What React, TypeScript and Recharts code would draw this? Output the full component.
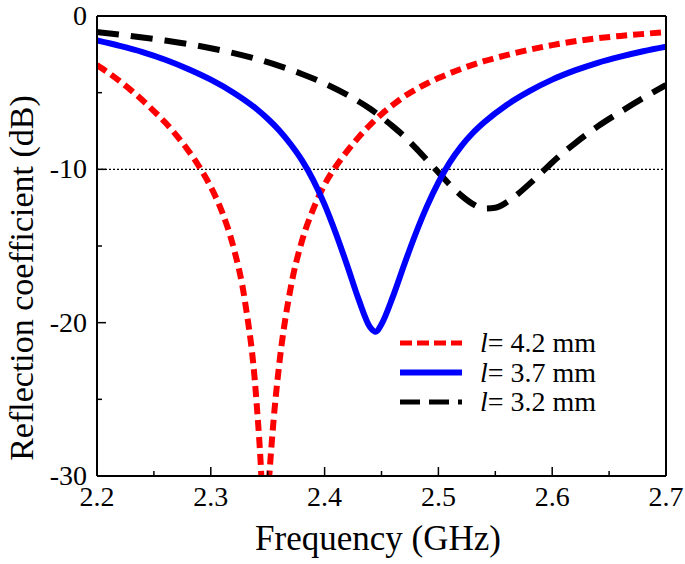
import { LineChart, Line, XAxis, YAxis, ReferenceLine, Legend, Label } from 'recharts';

// l = 4.2 mm
const redFreq = [2.2, 2.21, 2.22, 2.23, 2.24, 2.25, 2.26, 2.27, 2.28, 2.29, 2.3, 2.31, 2.32, 2.33, 2.34, 2.345, 2.347, 2.35, 2.355, 2.36, 2.37, 2.38, 2.39, 2.4, 2.41, 2.42, 2.43, 2.44, 2.45, 2.46, 2.47, 2.48, 2.49, 2.5, 2.52, 2.54, 2.56, 2.58, 2.6, 2.62, 2.64, 2.66, 2.68, 2.7];
const redDb = [-3.2, -3.7, -4.25, -4.85, -5.5, -6.2, -6.95, -7.8, -8.75, -9.85, -11.15, -12.8, -15.1, -18.6, -25, -31, -35, -31.5, -26.5, -22.8, -17.8, -14.7, -12.6, -11.0, -9.8, -8.8, -7.9, -7.1, -6.4, -5.8, -5.25, -4.8, -4.4, -4.05, -3.45, -2.95, -2.55, -2.2, -1.9, -1.65, -1.45, -1.3, -1.17, -1.05];

// l = 3.7 mm
const blueFreq = [2.2, 2.22, 2.24, 2.26, 2.28, 2.3, 2.32, 2.34, 2.35, 2.36, 2.37, 2.38, 2.39, 2.4, 2.41, 2.42, 2.43, 2.44, 2.445, 2.45, 2.46, 2.47, 2.48, 2.49, 2.5, 2.51, 2.52, 2.53, 2.54, 2.56, 2.58, 2.6, 2.62, 2.64, 2.66, 2.68, 2.7];
const blueDb = [-1.6, -1.95, -2.35, -2.85, -3.45, -4.15, -5.0, -6.05, -6.7, -7.45, -8.35, -9.4, -10.7, -12.3, -14.2, -16.3, -18.5, -20.3, -20.6, -20.1, -18.3, -16.2, -14.2, -12.4, -10.85, -9.55, -8.5, -7.65, -6.95, -5.8, -4.9, -4.15, -3.55, -3.05, -2.65, -2.3, -2.0];

// l = 3.2 mm
const blackFreq = [2.2, 2.22, 2.24, 2.26, 2.28, 2.3, 2.32, 2.34, 2.36, 2.38, 2.4, 2.42, 2.44, 2.45, 2.46, 2.47, 2.48, 2.49, 2.5, 2.51, 2.52, 2.53, 2.54, 2.55, 2.56, 2.57, 2.58, 2.59, 2.6, 2.61, 2.62, 2.64, 2.66, 2.68, 2.7];
const blackDb = [-1.05, -1.22, -1.4, -1.6, -1.83, -2.1, -2.42, -2.8, -3.25, -3.78, -4.4, -5.15, -6.05, -6.6, -7.2, -7.85, -8.6, -9.4, -10.2, -11.0, -11.7, -12.25, -12.55, -12.5, -12.15, -11.6, -10.95, -10.25, -9.55, -8.9, -8.3, -7.2, -6.25, -5.35, -4.5];

const xMajorTicks = [2.2, 2.3, 2.4, 2.5, 2.6, 2.7];
const xMinorTicks = [2.25, 2.35, 2.45, 2.55, 2.65];
const yMajorTicks = [-30, -20, -10, 0];
const yMinorTicks = [-25, -15, -5];

const SERIF = 'Times New Roman';

const toPoints = (freq: number[], db: number[]) => freq.map((f, i) => ({ f, db: db[i] }));

const series = [
  { key: 'red', label: '4.2 mm', data: toPoints(redFreq, redDb), color: '#ff0000', dash: '11 6', width: 6 },
  { key: 'blue', label: '3.7 mm', data: toPoints(blueFreq, blueDb), color: '#0000ff', dash: undefined, width: 6 },
  { key: 'black', label: '3.2 mm', data: toPoints(blackFreq, blackDb), color: '#000000', dash: '22 12', width: 6 },
];

const isIn = (arr: number[], v: number) => arr.some(t => Math.abs(t - v) < 1e-6);

const XTick = (props: any) => {
  const { x, y, payload } = props;
  const major = isIn(xMajorTicks, payload.value);
  return (
    <g>
      <line x1={x} x2={x} y1={y} y2={y - (major ? 9 : 5)} stroke="#000" strokeWidth={1.5} />
      {major && (
        <text x={x} y={y + 30} textAnchor="middle" style={{ fontFamily: SERIF, fontSize: 28 }} fill="#000">
          {payload.value.toFixed(1)}
        </text>
      )}
    </g>
  );
};

const YTick = (props: any) => {
  const { x, y, payload } = props;
  const major = isIn(yMajorTicks, payload.value);
  return (
    <g>
      <line x1={x} x2={x + (major ? 9 : 5)} y1={y} y2={y} stroke="#000" strokeWidth={1.5} />
      {major && (
        <text x={x - 10} y={y + 9} textAnchor="end" style={{ fontFamily: SERIF, fontSize: 28 }} fill="#000">
          {String(payload.value)}
        </text>
      )}
    </g>
  );
};

const renderLegend = () => (
  <svg width={240} height={92}>
    {series.map((s, i) => {
      const cy = 15 + i * 29.5;
      return (
        <g key={s.key}>
          <line x1={2} x2={64} y1={cy} y2={cy} stroke={s.color} strokeWidth={s.key === 'blue' ? 6 : 5} strokeDasharray={s.key === 'red' ? '12 5' : s.key === 'black' ? '20 9' : undefined} />
          <text x={82} y={cy + 9} style={{ fontFamily: SERIF, fontSize: 28 }} fill="#000">
            <tspan fontStyle="italic">l</tspan>
            <tspan>= {s.label}</tspan>
          </text>
        </g>
      );
    })}
  </svg>
);

export default function App() {
  return (
    <div style={{ position: 'absolute', left: 0, top: 0, width: 685, height: 564, background: '#fff', fontFamily: SERIF }}>
      <LineChart width={685} height={564} margin={{ top: 15, right: 18, bottom: 87, left: 96 }}>
        <XAxis
          dataKey="f"
          type="number"
          domain={[2.2, 2.7]}
          ticks={[...xMajorTicks, ...xMinorTicks].sort((a, b) => a - b)}
          interval={0}
          height={1}
          tickSize={0}
          tickMargin={0}
          tickLine={false}
          tick={XTick}
          axisLine={{ stroke: '#000', strokeWidth: 2 }}
          allowDataOverflow
        >
          <Label
            content={() => (
              <text x={378} y={550} textAnchor="middle" style={{ fontFamily: SERIF, fontSize: 35 }} fill="#000">
                Frequency (GHz)
              </text>
            )}
          />
        </XAxis>
        <YAxis
          type="number"
          domain={[-30, 0]}
          ticks={[...yMajorTicks, ...yMinorTicks].sort((a, b) => a - b)}
          interval={0}
          width={1}
          tickSize={0}
          tickMargin={0}
          tickLine={false}
          tick={YTick}
          axisLine={{ stroke: '#000', strokeWidth: 2 }}
          allowDataOverflow
        >
          <Label
            content={() => (
              <text x={33} y={278} transform="rotate(-90 33 278)" textAnchor="middle" style={{ fontFamily: SERIF, fontSize: 34 }} fill="#000">
                Reflection coefficient (dB)
              </text>
            )}
          />
        </YAxis>
        <XAxis xAxisId="top" orientation="top" type="number" domain={[2.2, 2.7]} height={1} tick={false} tickLine={false} axisLine={{ stroke: '#000', strokeWidth: 2 }} />
        <YAxis yAxisId="right" orientation="right" type="number" domain={[-30, 0]} width={1} tick={false} tickLine={false} axisLine={{ stroke: '#000', strokeWidth: 2 }} />
        <ReferenceLine y={-10} stroke="#000" strokeWidth={1.2} strokeDasharray="2 2" />
        {[series[2], series[0], series[1]].map(s => (
          <Line
            key={s.key}
            data={s.data}
            dataKey="db"
            type="monotone"
            stroke={s.color}
            strokeWidth={s.width}
            strokeDasharray={s.dash}
            dot={false}
            activeDot={false}
            isAnimationActive={false}
          />
        ))}
        <Legend
          layout="vertical"
          align="center"
          verticalAlign="middle"
          content={renderLegend}
          wrapperStyle={{ left: 398, top: 328, width: 240, height: 92 }}
        />
      </LineChart>
    </div>
  );
}
